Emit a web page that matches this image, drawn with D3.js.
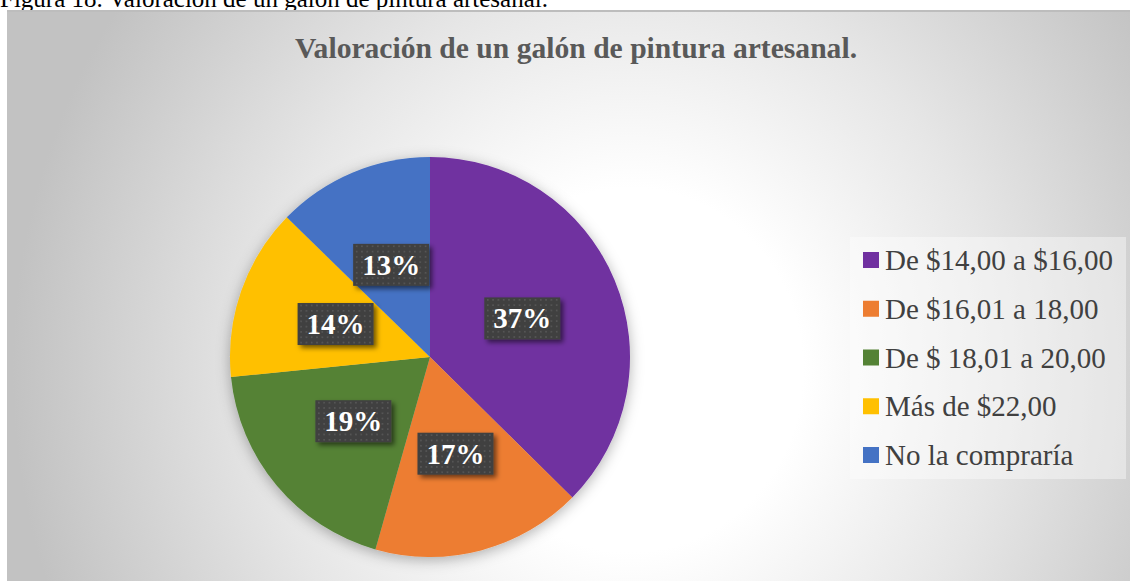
<!DOCTYPE html>
<html>
<head>
<meta charset="utf-8">
<style>
  body { margin: 0; background: #fff; }
  svg { display: block; font-family: "Liberation Serif", "Times New Roman", serif; }
</style>
</head>
<body>
<svg id="chart"></svg>
<script src="https://d3js.org/d3.v7.min.js"></script>
<script>

  var categories = ["De $14,00 a $16,00", "De $16,01 a 18,00", "De $ 18,01 a 20,00", "Más de $22,00", "No la compraría"];
  var values = [37.4, 17.0, 19.0, 13.9, 12.7];
  var colors = ["#7030a0", "#ed7d31", "#548235", "#ffc000", "#4472c4"];
  var title = "Valoración de un galón de pintura artesanal.";
  var caption = "Figura 18. Valoración de un galón de pintura artesanal.";

  var width = 1130, height = 581;

  var svg = d3.select("#chart")
    .attr("width", width)
    .attr("height", height);

  var defs = svg.append("defs");

  // background gradient of the chart area
  var grad = defs.append("radialGradient")
    .attr("id", "bg")
    .attr("gradientUnits", "userSpaceOnUse")
    .attr("cx", 630).attr("cy", 370).attr("r", 650)
    .attr("gradientTransform", "translate(630,370) scale(0.95,1) translate(-630,-370)");
  grad.append("stop").attr("offset", 0).attr("stop-color", "#ffffff");
  grad.append("stop").attr("offset", 0.28).attr("stop-color", "#ffffff");
  grad.append("stop").attr("offset", 0.6).attr("stop-color", "#e6e6e6");
  grad.append("stop").attr("offset", 1).attr("stop-color", "#c2c2c2");

  // pie shadow
  var pieShadow = defs.append("filter").attr("id", "pieShadow")
    .attr("x", "-20%").attr("y", "-20%").attr("width", "140%").attr("height", "140%");
  pieShadow.append("feDropShadow")
    .attr("dx", 0).attr("dy", 3).attr("stdDeviation", 7)
    .attr("flood-color", "#000").attr("flood-opacity", 0.3);

  // label shadow
  var labelShadow = defs.append("filter").attr("id", "labelShadow")
    .attr("x", "-30%").attr("y", "-30%").attr("width", "160%").attr("height", "160%");
  labelShadow.append("feDropShadow")
    .attr("dx", 3).attr("dy", 3).attr("stdDeviation", 2.5)
    .attr("flood-color", "#000").attr("flood-opacity", 0.55);

  // dotted pattern for label boxes
  var dots = defs.append("pattern").attr("id", "dots")
    .attr("patternUnits", "userSpaceOnUse")
    .attr("width", 5.3).attr("height", 5.3);
  dots.append("rect").attr("width", 5.3).attr("height", 5.3).attr("fill", "#404040");
  dots.append("circle").attr("cx", 2.6).attr("cy", 2.6).attr("r", 0.9).attr("fill", "#5a5a5a");

  // caption above the chart (partly covered by it, as in the source document)
  svg.append("text")
    .attr("x", 0)
    .attr("y", 7)
    .attr("font-size", 25)
    .attr("fill", "#000")
    .text(caption);

  // chart area
  svg.append("rect")
    .attr("x", 7).attr("y", 10)
    .attr("width", width - 7).attr("height", height - 10)
    .attr("fill", "url(#bg)");
  svg.append("line")
    .attr("x1", 7).attr("x2", width)
    .attr("y1", 11).attr("y2", 11)
    .attr("stroke", "#bdbdbd").attr("stroke-width", 2);

  // title
  svg.append("text")
    .attr("x", 576)
    .attr("y", 58)
    .attr("text-anchor", "middle")
    .attr("font-size", 29.6)
    .attr("font-weight", "bold")
    .attr("fill", "#595959")
    .text(title);

  // pie
  var cx = 430, cy = 357, radius = 200;

  var pie = d3.pie().sort(null).value(function(d) { return d; });
  var arc = d3.arc().innerRadius(0).outerRadius(radius);
  var arcs = pie(values);

  var color = d3.scaleOrdinal().domain(categories).range(colors);

  var g = svg.append("g")
    .attr("transform", "translate(" + cx + "," + cy + ")");

  g.append("g")
    .attr("filter", "url(#pieShadow)")
    .selectAll("path")
    .data(arcs)
    .enter().append("path")
    .attr("d", arc)
    .attr("fill", function(d, i) { return color(categories[i]); });

  // data labels
  var boxW = 76, boxH = 42;
  var labels = g.selectAll(".lbl")
    .data(arcs)
    .enter().append("g")
    .attr("class", "lbl")
    .attr("transform", function(d) {
      var c = arc.centroid(d);
      return "translate(" + c[0] + "," + c[1] + ")";
    });

  labels.append("rect")
    .attr("x", -boxW / 2).attr("y", -boxH / 2)
    .attr("width", boxW).attr("height", boxH)
    .attr("fill", "url(#dots)")
    .attr("filter", "url(#labelShadow)");

  labels.append("text")
    .attr("text-anchor", "middle")
    .attr("y", 10)
    .attr("font-size", 29)
    .attr("font-weight", "bold")
    .attr("fill", "#fff")
    .text(function(d) { return Math.round(d.value) + "%"; });

  // legend
  svg.append("rect")
    .attr("x", 850).attr("y", 237)
    .attr("width", 276).attr("height", 242)
    .attr("fill", "#ffffff").attr("fill-opacity", 0.4);

  var ly = d3.scalePoint().domain(categories).range([260, 455]);

  var legend = svg.selectAll(".leg")
    .data(categories)
    .enter().append("g")
    .attr("class", "leg")
    .attr("transform", function(d) { return "translate(863," + ly(d) + ")"; });

  legend.append("rect")
    .attr("x", 0).attr("y", -8)
    .attr("width", 16).attr("height", 16)
    .attr("fill", function(d) { return color(d); });

  legend.append("text")
    .attr("x", 22)
    .attr("y", 10)
    .attr("font-size", 29)
    .attr("fill", "#404040")
    .text(function(d) { return d; });

</script>
</body>
</html>
